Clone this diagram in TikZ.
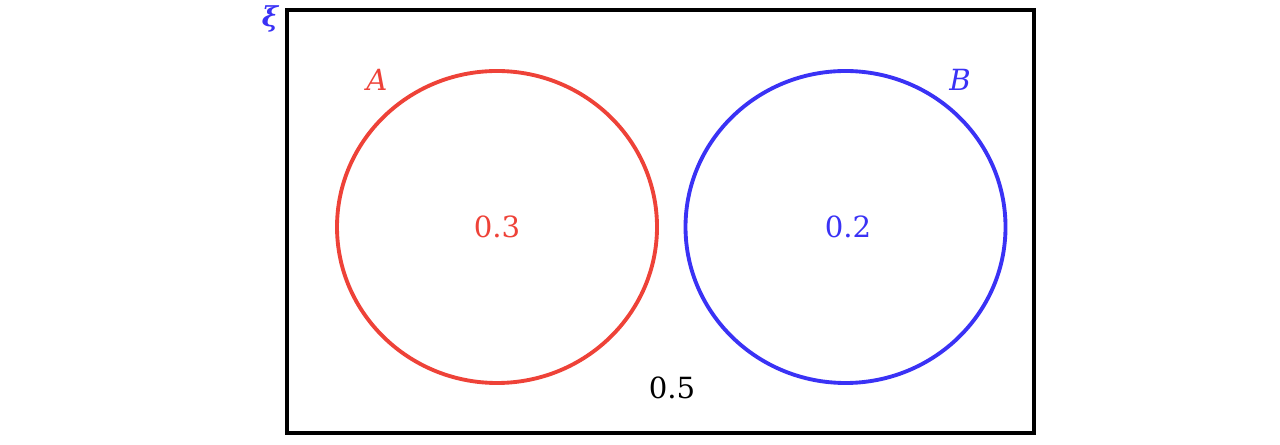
\documentclass[tikz,border=0pt]{standalone}
\usepackage{fontspec}
\setmainfont{DejaVu Serif}
\usepackage{tikz}
\definecolor{setred}{RGB}{238,66,56}
\definecolor{setblue}{RGB}{58,50,245}
\tikzset{
  setline/.style={line width=1.1pt},
  setlabel/.style={font=\fontsize{8.3}{10}\selectfont\itshape, inner sep=0pt},
  prob/.style={font=\fontsize{8.3}{10}\selectfont, inner sep=0pt}
}

\begin{document}
\begin{tikzpicture}
\useasboundingbox (0,0) rectangle (12.8,4.45);
% universal set
\draw[line width=0.9pt] (2.87,0.12) rectangle (10.34,4.35);
\node[setlabel, text=setblue, font=\fontsize{7.8}{9}\selectfont\bfseries\itshape] (xi) at (2.70,4.26) {ξ};
% events
\draw[setline, setred] (4.97,2.18) ellipse (1.60 and 1.56);
\draw[setline, setblue] (8.455,2.18) ellipse (1.60 and 1.56);
\node[setlabel, text=setred] (a) at (3.77,3.65) {A};
\node[setlabel, text=setblue] (b) at (9.60,3.65) {B};
% probabilities
\node[prob, text=setred] (pa) at (4.97,2.18) {0.3};
\node[prob, text=setblue] (pb) at (8.48,2.18) {0.2};
\node[prob] (pn) at (6.72,0.57) {0.5};
\end{tikzpicture}
\end{document}
